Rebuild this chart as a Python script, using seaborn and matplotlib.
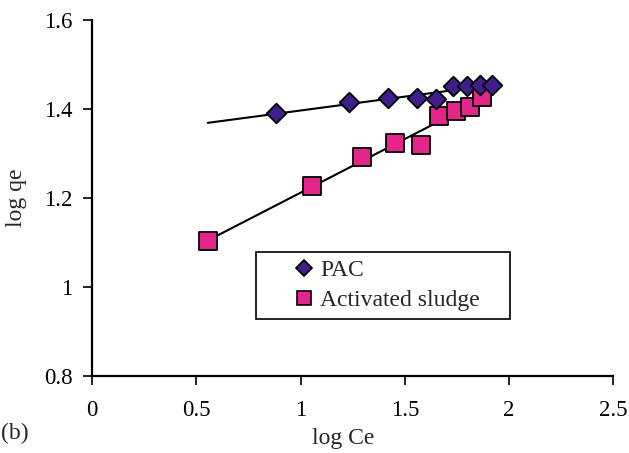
import numpy as np
import pandas as pd
import matplotlib
matplotlib.use('Agg')
import matplotlib.pyplot as plt
from matplotlib.ticker import FuncFormatter
from matplotlib.lines import Line2D
from matplotlib.patches import Rectangle
import seaborn as sns

# data (log Ce vs log qe)
pac_x = [0.88, 1.23, 1.42, 1.56, 1.65, 1.73, 1.80, 1.86, 1.92]
pac_y = [1.390, 1.415, 1.424, 1.424, 1.422, 1.452, 1.452, 1.453, 1.453]
sludge_x = [0.555, 1.056, 1.294, 1.454, 1.578, 1.665, 1.747, 1.811, 1.868]
sludge_y = [1.103, 1.228, 1.293, 1.324, 1.319, 1.385, 1.395, 1.405, 1.428]
series_names = ['PAC', 'Activated sludge']

x_ticks = [0, 0.5, 1, 1.5, 2, 2.5]
y_ticks = [0.8, 1, 1.2, 1.4, 1.6]

pac_color = '#3F1E8C'
sludge_color = '#E4268A'

sns.set_style('white')
plt.rcParams['font.family'] = ['Liberation Serif', 'DejaVu Serif']
FS = 17

df_pac = pd.DataFrame({'x': pac_x, 'y': pac_y})
df_sl = pd.DataFrame({'x': sludge_x, 'y': sludge_y})

fig = plt.figure(figsize=(6.29, 4.53), dpi=100)
ax = fig.add_axes([0.1463, 0.1700, 0.8290, 0.7858])

# linear trendlines (Excel style), drawn over the combined data range
x_lo = min(min(pac_x), min(sludge_x))
x_hi = max(max(pac_x), max(sludge_x))
xx = np.array([x_lo, x_hi])
for xs, ys in [(pac_x, pac_y), (sludge_x, sludge_y)]:
    k, b = np.polyfit(xs, ys, 1)
    sns.lineplot(x=xx, y=k * xx + b, ax=ax, color='black', lw=1.5, zorder=2)

sns.scatterplot(data=df_sl, x='x', y='y', ax=ax, marker='s', s=13.5 ** 2,
                color=sludge_color, edgecolor='black', linewidth=1.3, zorder=3)
sns.scatterplot(data=df_pac, x='x', y='y', ax=ax, marker='D', s=10 ** 2,
                color=pac_color, edgecolor='black', linewidth=1.3, zorder=4)

ax.set_xlim(0, 2.5)
ax.set_ylim(0.8, 1.6)
ax.set_xticks(x_ticks)
ax.set_yticks(y_ticks)
fmt = FuncFormatter(lambda v, p: '%g' % v)
ax.xaxis.set_major_formatter(fmt)
ax.yaxis.set_major_formatter(fmt)
ax.tick_params(axis='both', which='major', direction='out', length=6.5, width=1.2,
               labelsize=16.5, color='black', labelcolor='black',
               bottom=True, left=True)
ax.tick_params(axis='x', pad=11)
ax.tick_params(axis='y', pad=7.5)
for side in ['top', 'right']:
    ax.spines[side].set_visible(False)
for side in ['left', 'bottom']:
    ax.spines[side].set_color('black')
    ax.spines[side].set_linewidth(1.6)

ax.set_xlabel('log Ce', fontsize=FS)
ax.set_ylabel('log qe', fontsize=FS)
ax.xaxis.set_label_coords(0.481, -0.146)
ax.yaxis.set_label_coords(-0.125, 0.5)
fig.text(0.002, 1 - 433 / 453, '(b)', fontsize=FS, va='center')

# legend box
ax.add_patch(Rectangle((0.315, 0.160), 0.4865, 0.188, transform=ax.transAxes,
                       fill=True, facecolor='white', edgecolor='black', lw=1.2, zorder=5))
handles = [Line2D([], [], ls='none', marker='D', ms=8.5, mfc=pac_color, mec='black', mew=1.2),
           Line2D([], [], ls='none', marker='s', ms=10, mfc=sludge_color, mec='black', mew=1.2)]
leg = ax.legend(handles, series_names, loc='center', bbox_to_anchor=(0.566, 0.254),
                frameon=False, fontsize=FS, handlelength=0.8, handletextpad=0.3,
                labelspacing=0.35, borderpad=0.2)
leg.set_zorder(6)

fig.savefig('out.png', dpi=100)
